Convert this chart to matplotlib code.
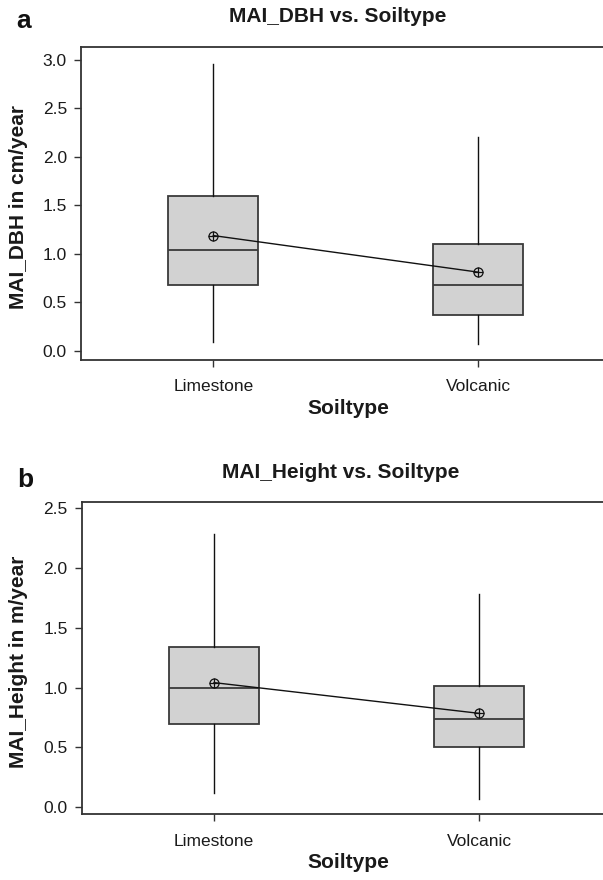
import numpy as np
import matplotlib.pyplot as plt

plt.rcParams['font.family'] = ['Liberation Sans', 'DejaVu Sans']

soiltypes = ['Limestone', 'Volcanic']

# panel a: MAI_DBH (cm/year)
dbh_whislo = [0.086, 0.068]
dbh_q1 = [0.673, 0.369]
dbh_med = [1.042, 0.673]
dbh_q3 = [1.594, 1.100]
dbh_whishi = [2.962, 2.209]
dbh_mean = [1.188, 0.810]

# panel b: MAI_Height (m/year)
ht_whislo = [0.114, 0.067]
ht_q1 = [0.692, 0.499]
ht_med = [0.993, 0.739]
ht_q3 = [1.336, 1.013]
ht_whishi = [2.282, 1.786]
ht_mean = [1.041, 0.784]

W, H = 603, 880
fig = plt.figure(figsize=(W / 100, H / 100), dpi=100)

edge = '#3a3a3a'
fill = '#d2d2d2'


def panel(rect, lo, q1, med, q3, hi, mean, ylim, yticks, ylabel):
    ax = fig.add_axes(rect)
    stats = []
    for i in range(len(soiltypes)):
        stats.append(dict(whislo=lo[i], q1=q1[i], med=med[i], q3=q3[i],
                          whishi=hi[i], fliers=[], label=soiltypes[i]))
    pos = np.arange(1, len(soiltypes) + 1)
    ax.bxp(stats, positions=pos, widths=0.34, showcaps=False, patch_artist=True,
           boxprops=dict(facecolor=fill, edgecolor=edge, linewidth=1.3),
           medianprops=dict(color=edge, linewidth=1.3),
           whiskerprops=dict(color='#111111', linewidth=1.0))
    ax.plot(pos, mean, color='#111111', linewidth=1.0, zorder=4)
    ax.plot(pos, mean, linestyle='none', marker='o', markersize=6.5,
            markerfacecolor='none', markeredgecolor='#111111', markeredgewidth=0.9, zorder=5)
    ax.plot(pos, mean, linestyle='none', marker='+', markersize=6.5,
            markeredgecolor='#111111', markeredgewidth=0.9, zorder=5)
    ax.set_xlim(0.5, 2.5)
    ax.set_ylim(*ylim)
    ax.set_yticks(yticks)
    ax.set_yticklabels(['%.1f' % t for t in yticks])
    ax.set_xticks(pos)
    ax.set_xticklabels(soiltypes)
    for s in ax.spines.values():
        s.set_color('#333333')
        s.set_linewidth(1.3)
    ax.tick_params(axis='both', direction='out', length=5, width=1.0,
                   color='#333333', labelsize=12.5, labelcolor='#1a1a1a')
    ax.tick_params(axis='x', pad=9)
    ax.tick_params(axis='y', pad=5)
    ax.set_ylabel(ylabel, fontsize=15, fontweight='bold', color='#1a1a1a')
    ax.yaxis.set_label_coords(-0.1, 0.49)
    ax.set_xlabel('Soiltype', fontsize=15, fontweight='bold', color='#1a1a1a')
    ax.xaxis.set_label_coords(0.504, -0.125)
    return ax


# axes extend past the right edge of the figure (cropped in the original)
panel([80.8 / W, 1 - 360 / H, 530 / W, 313 / H],
      dbh_whislo, dbh_q1, dbh_med, dbh_q3, dbh_whishi, dbh_mean,
      (-0.097, 3.135), [0.0, 0.5, 1.0, 1.5, 2.0, 2.5, 3.0], 'MAI_DBH in cm/year')
panel([81.5 / W, 1 - 814.3 / H, 530 / W, 312 / H],
      ht_whislo, ht_q1, ht_med, ht_q3, ht_whishi, ht_mean,
      (-0.061, 2.55), [0.0, 0.5, 1.0, 1.5, 2.0, 2.5], 'MAI_Height in m/year')

fig.text(338 / W, 1 - 17 / H, 'MAI_DBH vs. Soiltype', ha='center', va='center',
         fontsize=15, fontweight='bold', color='#1a1a1a')
fig.text(341 / W, 1 - 472 / H, 'MAI_Height vs. Soiltype', ha='center', va='center',
         fontsize=15, fontweight='bold', color='#1a1a1a')
fig.text(24 / W, 1 - 28 / H, 'a', ha='center', va='baseline',
         fontsize=19, fontweight='bold', color='#111111')
fig.text(25 / W, 1 - 487 / H, 'b', ha='center', va='baseline',
         fontsize=19, fontweight='bold', color='#111111')

fig.savefig('out.png', dpi=100)
